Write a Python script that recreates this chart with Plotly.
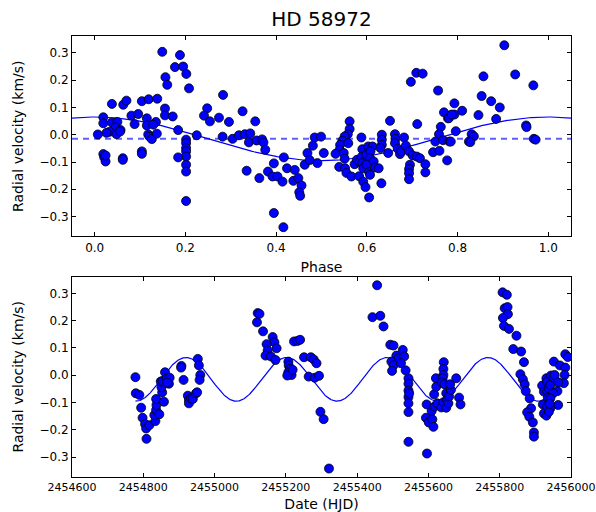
import numpy as np
import plotly.graph_objects as go

# ---------------- data ----------------
# Top panel: phase-folded radial velocities
phase = [
    0.149, 0.188, 0.177, 0.195, 0.202, 0.156, 0.160, 0.208, 0.038, 0.063,
    0.070, 0.104, 0.119, 0.138, 0.155, 0.081, 0.096, 0.155, 0.172, 0.019,
    0.019, 0.038, 0.050, 0.046, 0.057, 0.033, 0.026, 0.007, 0.048, 0.056,
    0.088, 0.115, 0.115, 0.135, 0.129, 0.118, 0.121, 0.126, 0.137, 0.184,
    0.225, 0.2015, 0.2015, 0.2015, 0.2015, 0.2015, 0.2015, 0.2015, 0.2015, 0.184,
    0.019, 0.021, 0.024, 0.024, 0.062, 0.062, 0.104, 0.104,
    0.283, 0.248, 0.241, 0.254, 0.274, 0.296, 0.326, 0.354, 0.282, 0.304,
    0.318, 0.331, 0.343, 0.340, 0.357, 0.369, 0.372, 0.376, 0.335, 0.363,
    0.395, 0.382, 0.392, 0.403, 0.414, 0.417, 0.424, 0.441, 0.438, 0.449,
    0.456, 0.451, 0.453, 0.395, 0.416, 0.463, 0.469, 0.481, 0.474, 0.491,
    0.485, 0.499, 0.505,
    0.562, 0.562, 0.558, 0.551, 0.546, 0.541, 0.559, 0.540, 0.531, 0.549,
    0.551, 0.539, 0.552, 0.555, 0.566, 0.573, 0.578, 0.584, 0.588, 0.590,
    0.589, 0.590, 0.592, 0.583, 0.592, 0.597, 0.605, 0.599, 0.603, 0.6125,
    0.608, 0.607, 0.599, 0.605, 0.607, 0.615, 0.618, 0.626, 0.632, 0.633,
    0.633, 0.633, 0.630, 0.647, 0.651, 0.662, 0.663, 0.662, 0.668, 0.673,
    0.676, 0.682, 0.686, 0.693, 0.701, 0.695, 0.693, 0.693, 0.693, 0.710,
    0.717, 0.729, 0.729, 0.711, 0.697, 0.709, 0.723, 0.757, 0.770, 0.779,
    0.763, 0.759, 0.751, 0.746, 0.760, 0.768, 0.777, 0.782,
    0.781, 0.793, 0.793, 0.787, 0.810, 0.796, 0.785, 0.846, 0.853, 0.857,
    0.874, 0.893, 0.885, 0.903, 0.927, 0.967, 0.951, 0.952, 0.831, 0.836,
    0.825, 0.828, 0.968, 0.972,
]
phase_rv = [
    0.304, 0.292, 0.248, 0.250, 0.223, 0.211, 0.183, 0.170, 0.113, 0.110,
    0.125, 0.123, 0.130, 0.132, 0.096, 0.070, 0.076, 0.071, 0.067, 0.064,
    0.042, 0.045, 0.047, 0.027, 0.017, 0.011, 0.007, 0.001, 0.002, 0.012,
    0.039, 0.060, 0.034, 0.047, 0.037, 0.001, -0.007, -0.016, 0.004, 0.017,
    -0.002, -0.018, -0.031, -0.049, -0.061, -0.080, -0.110, -0.135, -0.243, -0.083,
    -0.071, -0.083, -0.098, -0.076, -0.086, -0.092, -0.061, -0.070,
    0.146, 0.097, 0.070, 0.049, 0.0625, 0.047, 0.086, 0.049, -0.007, -0.015,
    -0.002, 0.002, 0.005, -0.028, -0.021, -0.017, -0.028, -0.055, -0.132, -0.159,
    -0.105, -0.135, -0.153, -0.153, -0.172, -0.083, -0.123, -0.129, -0.169, -0.159,
    -0.186, -0.211, -0.224, -0.287, -0.339, -0.110, -0.067, -0.040, -0.093, -0.104,
    -0.010, -0.007, -0.067,
    0.049, 0.021, 0.002, -0.006, -0.022, -0.037, -0.031, -0.055, -0.070, -0.067,
    -0.088, -0.118, -0.123, -0.140, -0.153, -0.108, -0.092, -0.098, -0.010, -0.053,
    -0.080, -0.104, -0.123, -0.152, -0.172, -0.192, -0.230, -0.074, -0.043, -0.043,
    -0.061, -0.086, -0.110, -0.137, -0.147, -0.098, -0.120, -0.123, -0.178, 0.000,
    -0.018, -0.037, -0.049, -0.067, 0.051, 0.002, -0.015, -0.031, -0.051, -0.071,
    -0.061, -0.010, -0.040, -0.061, -0.076, -0.110, -0.126, -0.141, -0.163, -0.080,
    -0.086, -0.108, -0.138, 0.039, 0.194, 0.227, 0.224, 0.162, 0.082, 0.060,
    0.029, 0.002, -0.025, -0.064, -0.059, -0.020, -0.094, -0.025,
    0.061, 0.115, 0.074, 0.074, 0.088, 0.013, -0.025, 0.072, 0.142, 0.214,
    0.123, 0.100, 0.058, 0.328, 0.221, 0.181, 0.034, 0.028, 0.002, -0.006,
    -0.025, -0.027, -0.015, -0.018,
]

# Bottom panel: radial velocities against date
date = [
    2454778, 2454779, 2454789, 2454794, 2454798, 2454805, 2454808, 2454817, 2454809, 2454834,
    2454831, 2454836, 2454837, 2454836, 2454845, 2454858, 2454853, 2454851, 2454849, 2454854,
    2454861, 2454866, 2454872, 2454874, 2454867, 2454907, 2454906, 2454913, 2454925, 2454928,
    2454928, 2454934, 2454939, 2454948, 2454953, 2454956, 2454960, 2454958, 2454951,
    2455121, 2455126, 2455119, 2455136, 2455163, 2455168, 2455174, 2455146, 2455149, 2455143,
    2455158, 2455171, 2455207, 2455208, 2455211, 2455207, 2455216, 2455204, 2455219, 2455223,
    2455233, 2455240, 2455251, 2455270, 2455278, 2455286, 2455264, 2455281, 2455293, 2455297,
    2455306, 2455321,
    2455456, 2455443, 2455465, 2455474, 2455493, 2455502, 2455528, 2455510, 2455517, 2455532,
    2455496, 2455502, 2455523, 2455498, 2455536, 2455544, 2455544, 2455544, 2455544, 2455544,
    2455544, 2455544, 2455546,
    2455595, 2455593, 2455601, 2455611, 2455614, 2455596, 2455609, 2455617, 2455616, 2455622,
    2455621, 2455625, 2455636, 2455642, 2455643, 2455642, 2455642, 2455640, 2455638, 2455645,
    2455650, 2455652, 2455650, 2455656, 2455658, 2455663, 2455661, 2455678, 2455686, 2455690,
    2455808, 2455820, 2455814, 2455822, 2455823, 2455809, 2455812, 2455826, 2455847, 2455838,
    2455860, 2455868, 2455858, 2455865, 2455870, 2455873, 2455884, 2455888, 2455877, 2455883,
    2455893, 2455896, 2455896,
    2455952, 2455969, 2455984, 2455982, 2455984, 2455991, 2455980, 2455962, 2455964, 2455919,
    2455924, 2455921, 2455924, 2455931, 2455933, 2455933, 2455935, 2455933, 2455931, 2455938,
    2455942, 2455944, 2455952, 2455954, 2455950, 2455942, 2455942, 2455938, 2455964, 2455940,
]
date_rv = [
    -0.007, -0.066, -0.072, -0.119, -0.156, -0.179, -0.195, -0.183, -0.233, -0.168,
    -0.146, -0.127, -0.109, -0.087, -0.143, -0.097, -0.063, -0.044, -0.023, -0.021,
    0.011, -0.011, -0.031, -0.009, -0.027, 0.034, 0.028, -0.017, -0.075, -0.091,
    -0.103, -0.085, -0.087, -0.066, 0.060, 0.036, 0.001, -0.017, -0.0625,
    0.228, 0.225, 0.194, 0.161, 0.140, 0.121, 0.099, 0.114, 0.091, 0.072,
    0.069, 0.056, 0.050, 0.036, 0.023, 0.011, 0.001, -0.001, 0.020, 0.124,
    0.126, 0.130, 0.066, 0.066, 0.058, 0.044, -0.005, -0.009, -0.002, -0.134,
    -0.161, -0.342,
    0.330, 0.213, 0.218, 0.179, 0.112, 0.109, 0.093, 0.072, 0.0625, 0.069,
    0.050, 0.036, 0.044, 0.016, 0.018, -0.011, -0.031, -0.056, -0.080, -0.103,
    -0.135, -0.244, -0.066,
    -0.107, -0.156, -0.173, -0.162, -0.189, -0.287, -0.131, -0.115, -0.070, -0.042,
    -0.011, -0.103, -0.118, -0.099, 0.048, 0.023, 0.001, -0.011, -0.026, -0.033,
    -0.066, -0.091, -0.119, -0.103, -0.078, -0.054, -0.033, -0.011, -0.082, -0.107,
    0.304, 0.295, 0.246, 0.250, 0.224, 0.210, 0.181, 0.170, 0.145, 0.096,
    0.087, 0.048, 0.004, -0.015, -0.033, -0.058, -0.085, -0.121, -0.136, -0.152,
    -0.173, -0.210, -0.225,
    0.050, 0.036, 0.028, 0.001, 0.077, 0.067, -0.029, -0.058, -0.109, -0.038,
    -0.060, -0.107, -0.140, -0.011, -0.023, -0.058, -0.082, -0.115, -0.148, -0.048,
    -0.036, -0.001, -0.009, 0.001, -0.066, -0.085, -0.121, -0.134, -0.026, -0.105,
]

# Sinusoidal model shown in both panels
gamma = -0.015        # systemic velocity (km/s)
K = 0.080             # semi-amplitude (km/s)
period = 282.3        # days
t_peak = 2454920.0    # HJD of maximum
phase_ticks = [0.0, 0.2, 0.4, 0.6, 0.8, 1.0]
rv_ticks = [-0.3, -0.2, -0.1, 0.0, 0.1, 0.2, 0.3]
date_ticks = list(range(2454600, 2456001, 200))

ph_model = np.linspace(-0.05, 1.05, 300)
rv_ph_model = gamma + K * np.cos(2 * np.pi * ph_model)
t_model = np.linspace(min(date), max(date), 1200)
rv_t_model = gamma + K * np.cos(2 * np.pi * (t_model - t_peak) / period)

FONT = "DejaVu Sans"
marker = dict(color="#0000ff", size=9, line=dict(color="black", width=0.8))

fig = go.Figure()
fig.add_trace(go.Scatter(x=[-0.05, 1.05], y=[gamma, gamma], mode="lines",
                         line=dict(color="rgba(40,40,255,0.75)", width=2, dash="6px,5px"),
                         xaxis="x", yaxis="y", hoverinfo="skip"))
fig.add_trace(go.Scatter(x=ph_model, y=rv_ph_model, mode="lines",
                         line=dict(color="#0000ff", width=1.2), xaxis="x", yaxis="y"))
fig.add_trace(go.Scatter(x=phase, y=phase_rv, mode="markers", marker=marker,
                         xaxis="x", yaxis="y"))
fig.add_trace(go.Scatter(x=t_model, y=rv_t_model, mode="lines",
                         line=dict(color="#0000ff", width=1.2), xaxis="x2", yaxis="y2"))
fig.add_trace(go.Scatter(x=date, y=date_rv, mode="markers", marker=marker,
                         xaxis="x2", yaxis="y2"))

ax_common = dict(showline=True, linecolor="black", linewidth=1, mirror="allticks",
                 ticks="inside", ticklen=4, tickcolor="black", showgrid=False,
                 zeroline=False, automargin=False,
                 tickfont=dict(family=FONT, size=12, color="black"))
yr = [-0.373, 0.362]
fig.update_layout(
    template="none",
    width=596, height=512,
    margin=dict(l=72, r=25, t=36, b=35, autoexpand=False),
    paper_bgcolor="white", plot_bgcolor="white",
    showlegend=False,
    font=dict(family=FONT, color="black"),
    title=dict(text="HD 58972", x=0.5, xref="paper", xanchor="center",
               y=1 - 19 / 512, yref="container", yanchor="middle",
               font=dict(family=FONT, size=20, color="black")),
    xaxis=dict(ax_common, domain=[0, 1], anchor="y", range=[-0.05, 1.05],
               tickvals=phase_ticks, tickformat=".1f",
               title=dict(text="Phase", standoff=8, font=dict(family=FONT, size=14))),
    yaxis=dict(ax_common, domain=[0.5454, 1], anchor="x", range=yr,
               tickvals=rv_ticks, tickformat=".1f",
               title=dict(text="Radial velocity (km/s)", standoff=12, font=dict(family=FONT, size=14))),
    xaxis2=dict(ax_common, domain=[0, 1], anchor="y2", range=[2454600, 2456000],
                tickvals=date_ticks, tickformat="d",
                tickfont=dict(family=FONT, size=11, color="black"),
                title=dict(text="Date (HJD)", standoff=6, font=dict(family=FONT, size=14))),
    yaxis2=dict(ax_common, domain=[0, 0.4546], anchor="x2", range=yr,
                tickvals=rv_ticks, tickformat=".1f",
                title=dict(text="Radial velocity (km/s)", standoff=12, font=dict(family=FONT, size=14))),
)

# Remove the browser's default 8px body margin so the figure fills the window.
fig.write_html("out.html",
               config={"displayModeBar": False, "staticPlot": True},
               post_script="document.body.style.margin='0';document.body.style.overflow='hidden';")
